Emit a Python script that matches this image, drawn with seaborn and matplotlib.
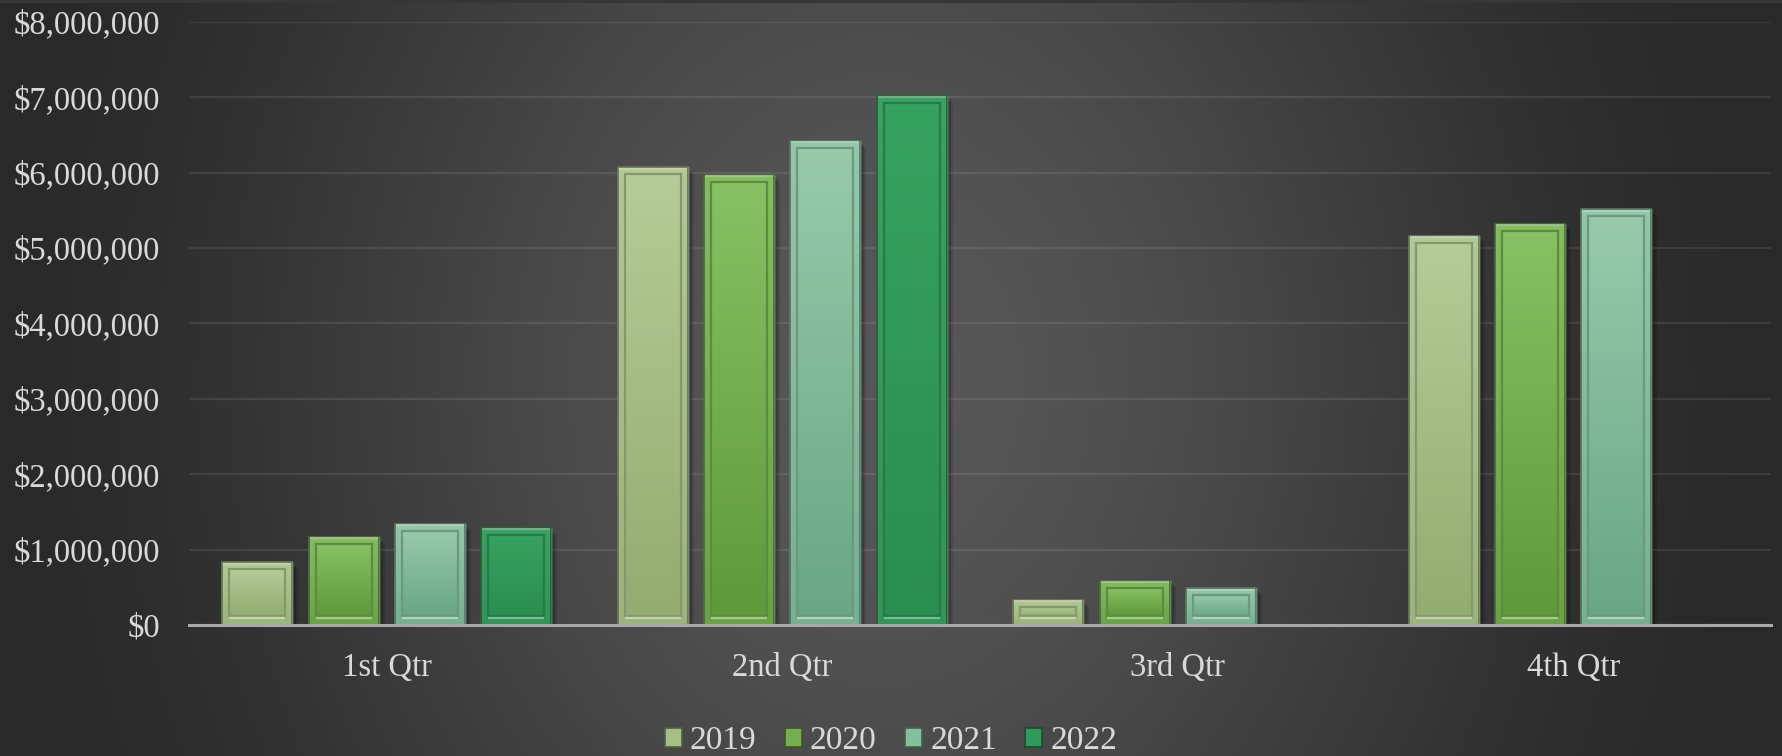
import numpy as np
import pandas as pd
import matplotlib
matplotlib.use("Agg")
import matplotlib.pyplot as plt
import matplotlib.colors as mcolors
from matplotlib.patches import Rectangle, Patch
from matplotlib.ticker import FuncFormatter, FixedLocator
import seaborn as sns

# ---- data -------------------------------------------------------------
quarters = ["1st Qtr", "2nd Qtr", "3rd Qtr", "4th Qtr"]
years = ["2019", "2020", "2021", "2022"]
sales_2019 = [835000, 6070000, 335000, 5160000]
sales_2020 = [1170000, 5970000, 590000, 5320000]
sales_2021 = [1340000, 6420000, 490000, 5510000]
sales_2022 = [1290000, 7020000, np.nan, np.nan]
y_ticks = [0, 1000000, 2000000, 3000000, 4000000, 5000000, 6000000, 7000000, 8000000]

series = {"2019": sales_2019, "2020": sales_2020, "2021": sales_2021, "2022": sales_2022}
df = pd.DataFrame(
    [(q, y, series[y][i]) for i, q in enumerate(quarters) for y in years],
    columns=["quarter", "year", "sales"],
)

# ---- styling ----------------------------------------------------------
year_colors = {"2019": "#a5bf86", "2020": "#74ae50", "2021": "#84bf9e", "2022": "#31995a"}
grad_top = {"2019": "#b4cd98", "2020": "#88c163", "2021": "#98c9ab", "2022": "#36a260"}
grad_bot = {"2019": "#93ac70", "2020": "#5f9a3a", "2021": "#69a786", "2022": "#2b8e51"}
text_color = "#d9d9d9"

sns.set_theme(style="dark")
plt.rcParams["font.family"] = ["Liberation Serif", "DejaVu Serif"]

W, H, DPI = 1783, 756, 100
fig = plt.figure(figsize=(W / DPI, H / DPI), dpi=DPI)

# dark backdrop, brighter toward the middle
bg_ax = fig.add_axes([0, 0, 1, 1], zorder=-10)
yy, xx = np.mgrid[0:H, 0:W]
d = np.sqrt(((xx - 880) / 930.0) ** 2 + ((yy - 380) / 1150.0) ** 2)
t = np.clip(d, 0, 1)
t = t * t * (3 - 2 * t)
lum = (0x57 + (0x29 - 0x57) * t) / 255.0
lum[:3, :] = 0x36 / 255.0
bg_ax.imshow(np.dstack([lum, lum, lum]), extent=[0, 1, 0, 1], aspect="auto", origin="upper")
bg_ax.set_axis_off()

left, right = 189 / W, 1771 / W
bottom, top = (H - 625) / H, (H - 21.7) / H
ax = fig.add_axes([left, bottom, right - left, top - bottom])
ax.set_facecolor("none")

sns.barplot(
    data=df, x="quarter", y="sales", hue="year",
    order=quarters, hue_order=years, palette=year_colors,
    width=0.874, gap=0.19, saturation=1, errorbar=None,
    legend=False, ax=ax, zorder=2,
)

ax.set_xlim(-0.5, 3.5)
ax.set_ylim(0, 8000000)

ax_w_px = (right - left) * W
ax_h_px = (top - bottom) * H
dx = 4.0 / ax_w_px
dy = 8000000 / ax_h_px

hex_to_year = {mcolors.to_hex(c): y for y, c in year_colors.items()}


def shade(c, f):
    r = np.array(mcolors.to_rgb(c))
    return tuple(np.clip(r * f, 0, 1))


def tint(c, f):
    r = np.array(mcolors.to_rgb(c))
    return tuple(r + (1 - r) * f)


bars = [p for p in list(ax.patches)
        if isinstance(p, Rectangle) and np.isfinite(p.get_height()) and p.get_height() > 0]
for p in bars:
    yr = hex_to_year.get(mcolors.to_hex(p.get_facecolor()))
    if yr is None:
        continue
    x0, w, h = p.get_x(), p.get_width(), p.get_height()
    base = year_colors[yr]

    # soft drop shadow
    for off, a in [(6, 0.12), (4, 0.18), (2, 0.25)]:
        ax.add_patch(Rectangle((x0 + off * dx, 0), w, h - off * dy, facecolor="black",
                               edgecolor="none", alpha=a, zorder=1.5))

    # face gradient clipped to the bar
    g0 = np.array(mcolors.to_rgb(grad_top[yr]))
    g1 = np.array(mcolors.to_rgb(grad_bot[yr]))
    s = np.linspace(0, 1, 64)[:, None]
    grad = (g0 * (1 - s) + g1 * s)[:, None, :]
    im = ax.imshow(grad, extent=[x0, x0 + w, 0, h], aspect="auto", origin="upper", zorder=2.2)
    im.set_clip_path(p)

    # raised frame: slightly lighter band around the panel
    ix0, ix1 = x0 + 7 * dx, x0 + w - 7 * dx
    iy0, iy1 = 9 * dy, h - 7 * dy
    ax.add_patch(Rectangle((x0, 0), w, h, facecolor=tint(base, 0.08), edgecolor="none",
                           alpha=0.35, zorder=2.3))

    # outer rim
    ax.add_patch(Rectangle((x0, 0), w, h, facecolor="none", edgecolor=shade(base, 0.6),
                           linewidth=1.2, zorder=3))
    ax.plot([x0 + 1 * dx, x0 + w - 1 * dx], [h - 1.5 * dy] * 2, color=tint(base, 0.35),
            linewidth=1.2, zorder=3.1, solid_capstyle="butt")

    # recessed inner panel
    if iy1 > iy0:
        s2 = np.linspace(0, 1, 64)[:, None]
        grad2 = (g0 * (1 - s2) + g1 * s2)[:, None, :]
        ax.imshow(grad2, extent=[ix0, ix1, iy0, iy1], aspect="auto", origin="upper", zorder=2.4)
        ax.add_patch(Rectangle((ix0, iy0), ix1 - ix0, iy1 - iy0, facecolor="none",
                               edgecolor=shade(base, 0.8), linewidth=1.6, zorder=3))
        ax.plot([ix0, ix1], [iy0 - 1.6 * dy] * 2, color=tint(base, 0.35),
                linewidth=1.6, zorder=3.1, solid_capstyle="butt")

ax.set_xlim(-0.5, 3.5)
ax.set_ylim(0, 8000000)

# axes, grid and labels
ax.yaxis.set_major_locator(FixedLocator(y_ticks))
ax.yaxis.set_major_formatter(FuncFormatter(lambda v, pos: f"${v:,.0f}"))
ax.grid(axis="y", color="white", alpha=0.09, linewidth=1.6, zorder=0)
ax.grid(axis="x", visible=False)
for side in ["left", "right", "top"]:
    ax.spines[side].set_visible(False)
ax.spines["bottom"].set_visible(True)
ax.spines["bottom"].set_color("#a8a8a8")
ax.spines["bottom"].set_linewidth(2.2)
ax.spines["bottom"].set_zorder(4)
ax.tick_params(axis="y", length=0, pad=21, labelsize=23.5, labelcolor=text_color)
ax.tick_params(axis="x", length=0, pad=20, labelsize=23.5, labelcolor=text_color)
ax.set_xlabel("")
ax.set_ylabel("")

handles = [Patch(facecolor=year_colors[y], edgecolor=shade(year_colors[y], 0.5), linewidth=1.2)
           for y in years]
fig.legend(handles, years, loc="center", bbox_to_anchor=(891 / W, 1 - 741 / H),
           ncol=4, frameon=False, fontsize=24, labelcolor=text_color,
           handlelength=0.5, handleheight=0.5, handletextpad=0.25, columnspacing=0.85)

fig.savefig("out.png", dpi=DPI)
